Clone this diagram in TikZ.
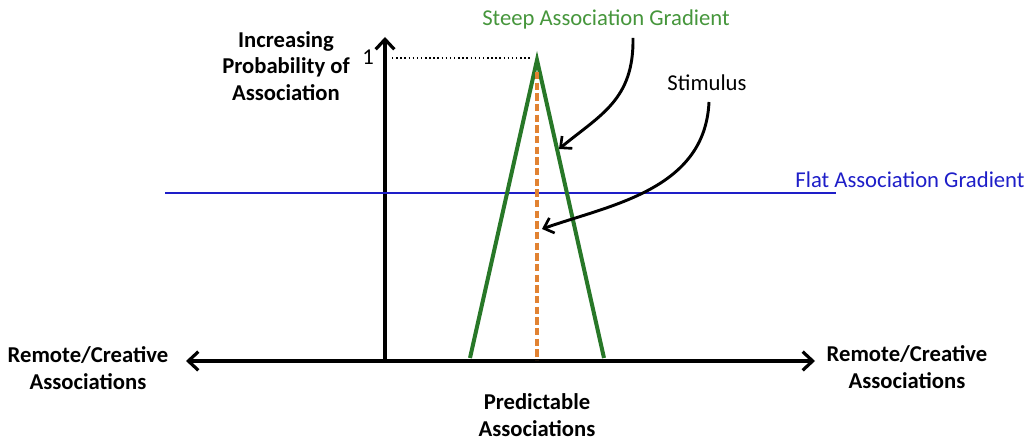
\documentclass[tikz,border=0pt]{standalone}
\usepackage{fontspec}
\setmainfont{Carlito}
\usetikzlibrary{arrows.meta}
\definecolor{tgreen}{RGB}{40,120,40}
\definecolor{lgreen}{RGB}{70,150,60}
\definecolor{fblue}{RGB}{30,30,200}
\definecolor{torange}{RGB}{225,130,50}
\tikzset{
  axtip/.tip={Straight Barb[length=7.5pt,width=14pt,line width=2.4pt]},
  axisline/.style={line width=2.8pt},
  lbl/.style={font=\bfseries\fontsize{17}{20}\selectfont, align=center, inner sep=0pt},
  plain/.style={font=\fontsize{17}{20}\selectfont, inner sep=0pt},
  curvearrow/.style={line width=2.2pt, -{Straight Barb[length=6.5pt,width=12pt,line width=2pt]}}
}
\begin{document}
\begin{tikzpicture}[x=0.75pt,y=-0.75pt]
\useasboundingbox (0,0) rectangle (1026,441);
% axes
\coordinate (origin) at (385,361);
\coordinate (ytop) at (385,37);
\coordinate (xl) at (186,361);
\coordinate (xr) at (815,361);
\draw[axisline, -axtip] (origin) -- (ytop);
\draw[axisline, axtip-axtip] (xl) -- (xr);
% flat gradient
\coordinate (fl) at (165,193);
\coordinate (fr) at (836,193);
\draw[fblue, line width=2pt] (fl) -- (fr);
% triangle
\coordinate (apex) at (537,60);
\coordinate (bl) at (470,358);
\coordinate (br) at (604,358);
\draw[tgreen, line width=3pt, line join=miter] (bl) -- (apex) -- (br);
% stimulus dashed
\coordinate (stop) at (537,72);
\coordinate (sbot) at (537,360);
\draw[torange, line width=2.8pt, dash pattern=on 5.5pt off 2.5pt] (stop) -- (sbot);
% dotted
\coordinate (d1) at (392,58);
\coordinate (d2) at (532,58);
\draw[line width=1.1pt, dotted] (d1) -- (d2);
\node[plain] (one) at (368,57) {1};
% labels
\node[lbl] (ylab) at (286,66) {Increasing\\Probability of\\Association};
\node[lbl] (ll) at (88,368) {Remote/Creative\\Associations};
\node[lbl] (rl) at (907,367) {Remote/Creative\\Associations};
\node[lbl] (pl) at (537,415) {Predictable\\Associations};
\node[plain, text=lgreen] (steep) at (606,19) {Steep Association Gradient};
\node[plain, text=fblue] (flat) at (910,180) {Flat Association Gradient};
\node[plain] (stim) at (707,83) {Stimulus};
% curved arrows
\coordinate (s1) at (633,38);
\coordinate (s2) at (559,149);
\draw[curvearrow] (s1) .. controls (634,100) and (600,115) .. (s2);
\coordinate (t1) at (709,102);
\coordinate (t2) at (542,229);
\draw[curvearrow] (t1) .. controls (705,190) and (610,205) .. (t2);
\end{tikzpicture}
\end{document}
